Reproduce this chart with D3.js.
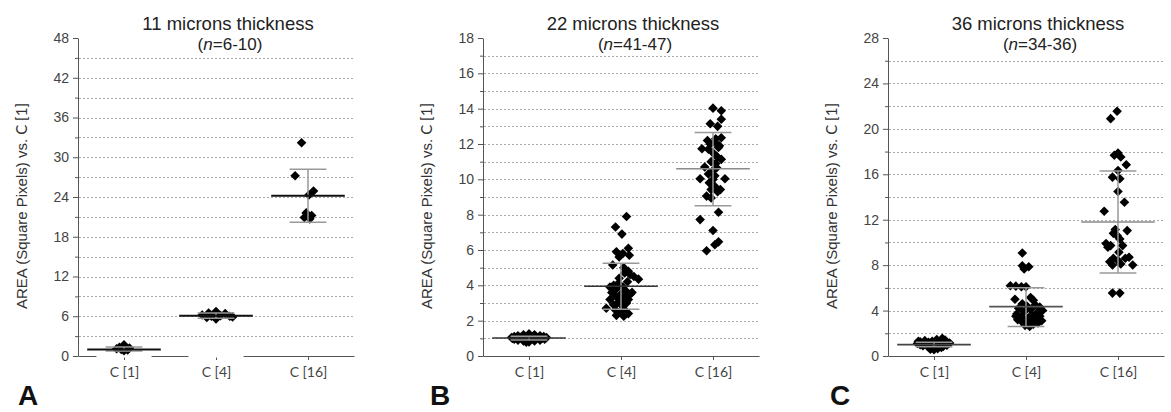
<!DOCTYPE html>
<html>
<head>
<meta charset="utf-8">
<script src="https://cdn.jsdelivr.net/npm/d3@7/dist/d3.min.js"></script>
<style>
  body { margin: 0; background: #fff; }
  svg { display: block; }
</style>
</head>
<body>
<div id="chart"></div>
<script>
// categories and per-panel labels
const categories = ["C [1]", "C [4]", "C [16]"];
const panelLetters = ["A", "B", "C"];
const titles = ["11 microns thickness", "22 microns thickness", "36 microns thickness"];
const nRanges = ["6-10", "41-47", "34-36"];
const yMaxes = [48, 18, 28];
const majorSteps = [6, 2, 4];
const minorSteps = [3, 1, 2];

// mean and SD bars, per category
const meansA = [1.0, 6.07, 24.2];
const sdLowA = [0.75, 5.7, 20.2];
const sdHighA = [1.35, 6.5, 28.2];
const meansB = [1.02, 3.95, 10.6];
const sdLowB = [0.9, 2.65, 8.5];
const sdHighB = [1.12, 5.25, 12.65];
const meansC = [1.0, 4.35, 11.8];
const sdLowC = [0.82, 2.6, 7.3];
const sdHighC = [1.22, 6.02, 16.3];

// points: [value, jitter in category units]
const ptsA1 = [[1.7,0.0],[1.3,-0.05],[1.2,0.06],[1.0,-0.03],[0.9,0.04],[0.8,0.0],[1.1,-0.08]];
const ptsA4 = [[6.7,0.0],[6.5,-0.08],[6.4,0.1],[6.2,-0.15],[6.1,0.05],[6.0,-0.05],[6.0,0.15],[5.9,0.18],[5.8,-0.1],[5.6,0.0]];
const ptsA16 = [[32.2,-0.07],[27.2,-0.14],[24.9,0.06],[24.3,0.01],[21.6,-0.02],[21.2,0.04],[20.9,-0.04],[20.7,0.02]];

const ptsB1 = [[1.25,0.0],[1.2,-0.06],[1.2,0.06],[1.15,-0.12],[1.15,0.0],[1.15,0.12],[1.1,-0.16],[1.1,-0.05],[1.1,0.05],[1.1,0.16],
  [1.05,-0.19],[1.05,-0.09],[1.05,0.02],[1.05,0.11],[1.05,0.19],[1.0,-0.18],[1.0,-0.07],[1.0,0.04],[1.0,0.14],[0.95,-0.16],
  [0.95,-0.05],[0.95,0.06],[0.95,0.17],[0.9,-0.12],[0.9,0.0],[0.9,0.12],[0.85,-0.06],[0.85,0.06],[0.8,0.0],[0.78,-0.03]];
const ptsB4 = [[7.9,0.06],[7.3,-0.06],[6.9,0.01],[6.1,0.08],[5.9,-0.05],[5.8,0.02],[5.7,0.09],[5.6,-0.02],[5.15,-0.09],[5.0,0.03],
  [4.7,0.04],[4.6,0.1],[4.5,0.14],[4.35,0.19],[4.2,0.07],[4.1,-0.03],[4.0,-0.08],[3.9,0.02],[3.8,-0.05],[3.7,0.05],
  [3.6,-0.1],[3.5,0.0],[3.5,0.1],[3.4,-0.06],[3.4,0.04],[3.3,-0.02],[3.2,-0.12],[3.2,0.08],[3.1,0.0],[3.0,-0.04],
  [3.0,0.06],[2.9,-0.08],[2.8,0.02],[2.7,-0.16],[2.6,-0.06],[2.6,0.04],[2.5,0.0],[2.4,0.08],[2.3,-0.05],[2.25,0.03],
  [3.6,0.12],[3.9,-0.12],[4.4,-0.02],[4.8,0.08]];
const ptsB16 = [[14.03,0.0],[13.88,0.09],[13.4,0.09],[13.15,-0.03],[13.0,0.05],[12.35,0.09],[12.2,-0.06],[12.1,0.02],[12.0,-0.03],[12.3,0.03],
  [11.9,0.07],[11.73,-0.12],[11.7,-0.05],[11.8,0.06],[11.5,0.0],[11.3,0.04],[11.24,0.05],[11.13,0.09],[11.0,-0.02],[10.9,0.03],
  [10.7,-0.09],[10.66,0.04],[10.5,0.0],[10.3,-0.05],[10.2,0.02],[10.03,-0.14],[10.03,0.13],[9.99,0.0],[9.8,-0.04],[9.6,0.02],
  [9.42,-0.02],[9.42,0.08],[9.3,0.05],[9.05,-0.07],[8.95,-0.02],[8.14,0.06],[7.72,-0.14],[7.1,0.0],[6.46,0.06],[6.3,0.02],[5.96,-0.07]];

const ptsC1 = [[1.55,0.09],[1.45,0.03],[1.4,0.12],[1.35,-0.1],[1.3,-0.02],[1.3,0.07],[1.25,-0.15],[1.2,0.14],[1.2,-0.06],[1.15,0.02],
  [1.1,-0.18],[1.1,0.1],[1.05,-0.1],[1.05,0.0],[1.0,0.06],[1.0,-0.15],[0.95,0.14],[0.95,-0.04],[0.9,0.04],[0.9,-0.12],
  [0.85,0.1],[0.8,-0.06],[0.8,0.02],[0.75,0.08],[0.7,-0.02],[0.65,0.04],[0.6,-0.04],[0.55,0.0],[1.15,0.17],[1.3,-0.17]];
const ptsC4 = [[9.07,-0.04],[7.95,-0.04],[7.86,0.03],[7.66,-0.02],[6.18,-0.17],[6.15,-0.11],[6.1,-0.05],[6.1,0.0],[5.15,0.05],[5.0,-0.12],
  [4.9,0.08],[4.6,-0.04],[4.5,0.1],[4.3,0.15],[4.2,-0.08],[4.1,0.05],[4.0,0.18],[3.9,-0.02],[3.8,0.12],[3.7,-0.1],
  [3.6,0.06],[3.5,0.15],[3.4,-0.05],[3.3,0.02],[3.3,0.11],[3.2,-0.09],[3.1,0.17],[3.0,0.05],[2.9,-0.03],[2.9,0.13],
  [2.8,0.08],[2.7,-0.01],[2.6,0.04],[3.5,-0.11],[4.4,0.01]];
const ptsC16 = [[21.55,-0.01],[20.9,-0.08],[17.87,0.0],[17.52,0.03],[17.67,-0.04],[16.84,0.09],[16.34,0.0],[15.75,-0.06],[15.6,0.02],[14.49,0.0],
  [13.54,0.07],[12.75,-0.15],[11.13,-0.03],[11.04,0.1],[10.6,-0.01],[10.3,0.02],[9.72,-0.08],[9.57,-0.11],[9.72,0.05],[9.13,0.01],
  [8.6,-0.05],[8.6,0.08],[8.7,0.12],[8.4,0.0],[8.01,-0.06],[8.1,0.03],[8.01,0.16],[5.54,-0.06],[5.54,0.02],[10.8,-0.05],
  [9.9,-0.13],[8.3,-0.09]];

// panel A's x axis has white breaks under the first two groups
const axisGapsA = [0, 1];

const width = 1171, height = 412;
const panelLeft = [78, 483, 888];
const letterLeft = [18, 430, 830];
const plotW = 276, plotTop = 38, plotBottom = 356;
const meanColors = [["#111","#111","#111"], ["#333","#333","#8a8a8a"], ["#444","#555","#8a8a8a"]];

const panels = [
  {means: meansA, lo: sdLowA, hi: sdHighA, pts: [ptsA1, ptsA4, ptsA16], gaps: axisGapsA},
  {means: meansB, lo: sdLowB, hi: sdHighB, pts: [ptsB1, ptsB4, ptsB16], gaps: []},
  {means: meansC, lo: sdLowC, hi: sdHighC, pts: [ptsC1, ptsC4, ptsC16], gaps: []}
];

const svg = d3.select("#chart").append("svg")
  .attr("width", width).attr("height", height);
svg.append("rect").attr("width", width).attr("height", height).attr("fill", "#fff");

const sansFont = "'Liberation Sans', Arial, sans-serif";
const catFont = "Lato, 'Open Sans', sans-serif";
const diamond = d3.symbol().type(d3.symbolSquare).size(46);

panels.forEach(function(p, k) {
  const x0 = panelLeft[k], x1 = x0 + plotW;
  const g = svg.append("g");
  const x = d3.scaleLinear().domain([-0.5, 2.5]).range([x0, x1]);
  const y = d3.scaleLinear().domain([0, yMaxes[k]]).range([plotBottom, plotTop]);
  const major = d3.range(0, yMaxes[k] + 0.001, majorSteps[k]);
  const minor = d3.range(minorSteps[k], yMaxes[k], majorSteps[k]);
  const gridVals = d3.range(minorSteps[k], yMaxes[k] - 0.001, minorSteps[k]);

  // dotted gridlines
  g.selectAll(".grid").data(gridVals).enter().append("line")
    .attr("x1", x0 + 1).attr("x2", x1)
    .attr("y1", d => Math.round(y(d)) + 0.5).attr("y2", d => Math.round(y(d)) + 0.5)
    .attr("stroke", "#a8a8a8").attr("stroke-width", 1).attr("stroke-dasharray", "2,2");

  // y axis: major with labels, minor without
  const yAx = g.append("g").attr("transform", `translate(${x0},0)`)
    .call(d3.axisLeft(y).tickValues(major).tickSize(5).tickSizeOuter(0).tickFormat(d3.format("d")));
  yAx.select(".domain").attr("stroke", "#555");
  yAx.selectAll(".tick line").attr("stroke", "#555");
  yAx.selectAll("text").attr("x", -9).style("font-family", sansFont).style("font-size", "14px").attr("fill", "#444");
  const yMin = g.append("g").attr("transform", `translate(${x0},0)`)
    .call(d3.axisLeft(y).tickValues(minor).tickSize(3).tickFormat(""));
  yMin.select(".domain").remove();
  yMin.selectAll(".tick line").attr("stroke", "#555");

  // x axis
  const xAx = g.append("g").attr("transform", `translate(0,${plotBottom})`)
    .call(d3.axisBottom(x).tickValues([0, 1, 2]).tickSize(4).tickSizeOuter(0).tickFormat(i => categories[i]));
  xAx.select(".domain").attr("stroke", "#555");
  xAx.selectAll(".tick line").attr("stroke", "#555");
  xAx.selectAll("text").attr("y", 21).attr("dy", 0)
    .style("font-family", catFont).style("font-size", "14px").attr("fill", "#444");

  g.selectAll(".gap").data(p.gaps).enter().append("line")
    .attr("x1", d => x(d - 0.3)).attr("x2", d => x(d + 0.3))
    .attr("y1", plotBottom).attr("y2", plotBottom)
    .attr("stroke", "#fff").attr("stroke-width", 3);

  // points
  p.pts.forEach(function(list, i) {
    g.selectAll(".pt" + i).data(list).enter().append("path")
      .attr("d", diamond)
      .attr("transform", d => `translate(${x(i + d[1])},${y(d[0])}) rotate(45)`)
      .attr("fill", "#000");
  });

  // SD bars and mean lines
  categories.forEach(function(c, i) {
    const sd = g.append("g").attr("stroke", "#999").attr("stroke-width", 1.5);
    sd.append("line").attr("x1", x(i)).attr("x2", x(i)).attr("y1", y(p.lo[i])).attr("y2", y(p.hi[i]));
    sd.append("line").attr("x1", x(i - 0.2)).attr("x2", x(i + 0.2)).attr("y1", y(p.lo[i])).attr("y2", y(p.lo[i]));
    sd.append("line").attr("x1", x(i - 0.2)).attr("x2", x(i + 0.2)).attr("y1", y(p.hi[i])).attr("y2", y(p.hi[i]));
    g.append("line").attr("x1", x(i - 0.4)).attr("x2", x(i + 0.4))
      .attr("y1", y(p.means[i])).attr("y2", y(p.means[i]))
      .attr("stroke", meanColors[k][i]).attr("stroke-width", k === 0 ? 2 : 1.6);
  });

  // titles
  const cx = (x0 + x1) / 2 + 12;
  g.append("text").attr("x", cx).attr("y", 30).attr("text-anchor", "middle")
    .style("font-family", sansFont).style("font-size", "18.5px").attr("fill", "#222")
    .text(titles[k]);
  const nt = g.append("text").attr("x", cx + 2).attr("y", 50).attr("text-anchor", "middle")
    .style("font-family", sansFont).style("font-size", "17px").attr("fill", "#222");
  nt.append("tspan").text("(");
  nt.append("tspan").style("font-style", "italic").text("n");
  nt.append("tspan").text("=" + nRanges[k] + ")");

  // y label
  const yl = g.append("text")
    .attr("transform", `translate(${x0 - 51},206) rotate(-90)`)
    .attr("text-anchor", "middle")
    .style("font-family", sansFont).style("font-size", "15px").attr("fill", "#333");
  yl.append("tspan").text("AREA (Square Pixels) vs. ");
  yl.append("tspan").style("font-family", catFont).text(categories[0]);

  // panel letter
  g.append("text").attr("x", letterLeft[k]).attr("y", 405)
    .style("font-family", sansFont).style("font-size", "28px").style("font-weight", "bold")
    .attr("fill", "#111").text(panelLetters[k]);
});
</script>
</body>
</html>
